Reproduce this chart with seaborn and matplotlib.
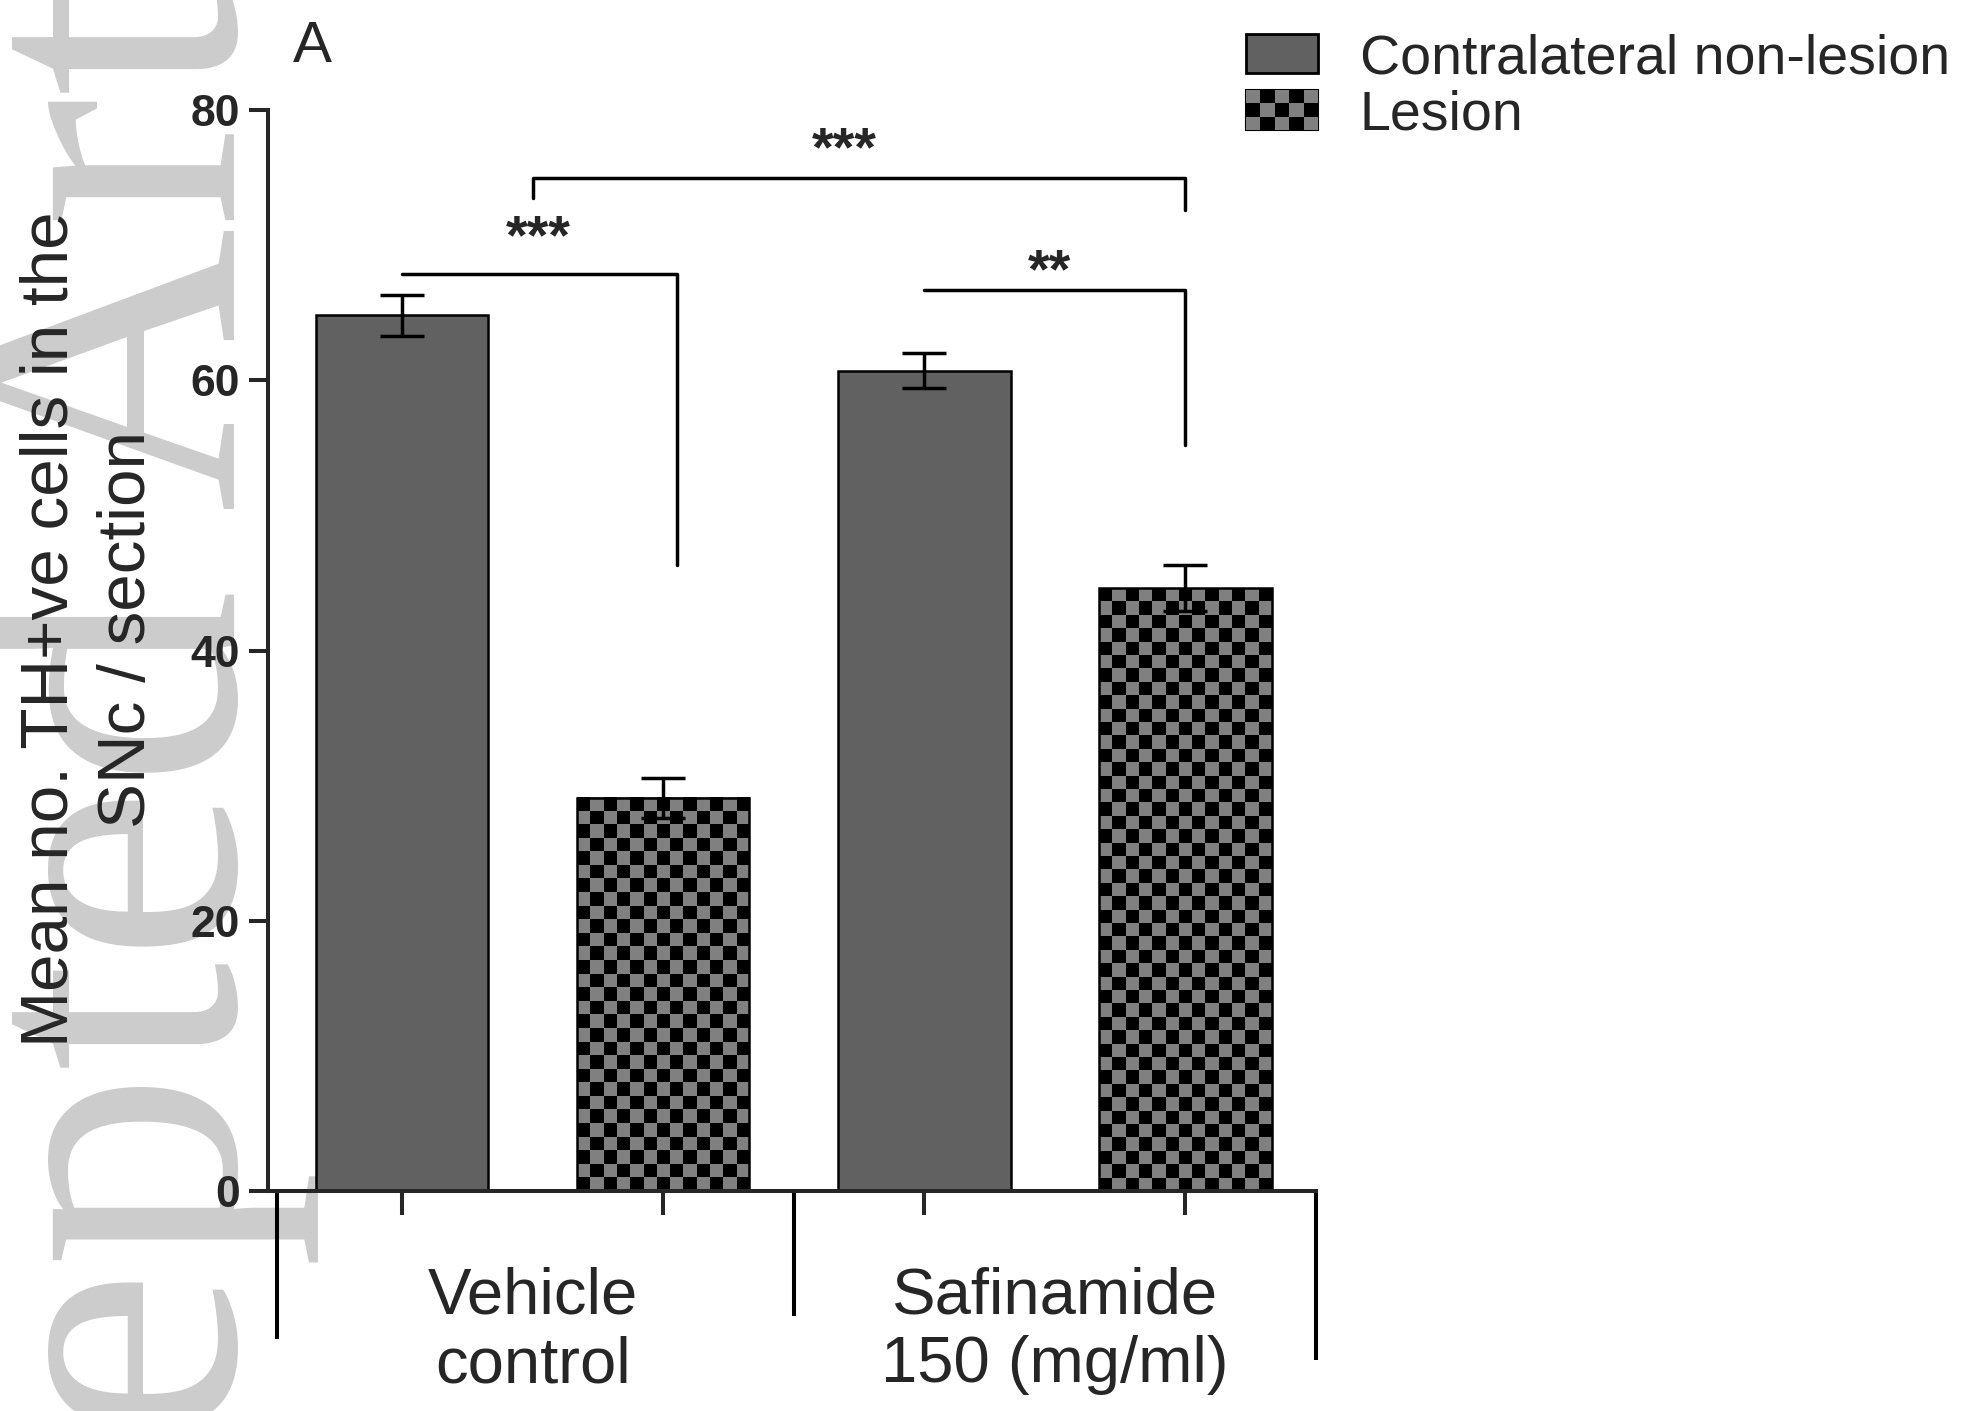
import numpy as np
import pandas as pd
import matplotlib
matplotlib.use('Agg')
import matplotlib.pyplot as plt
import matplotlib.transforms as mtransforms
import seaborn as sns
from matplotlib.colors import ListedColormap
from matplotlib.patches import Patch, Rectangle
from matplotlib.legend_handler import HandlerBase

# data
groups = ['Vehicle\ncontrol', 'Safinamide\n150 (mg/ml)']
sides = ['Contralateral non-lesion', 'Lesion']
contra_mean = [64.8, 60.7]
contra_sem = [1.5, 1.3]
lesion_mean = [29.1, 44.6]
lesion_sem = [1.5, 1.7]
y_ticks = [0, 20, 40, 60, 80]

SOLID = '#616161'
CHECK = '#808080'

df = pd.DataFrame({
    'group': groups + groups,
    'side': [sides[0]] * 2 + [sides[1]] * 2,
    'mean': contra_mean + lesion_mean,
})


class CheckerHandler(HandlerBase):
    """legend key drawn as a small checkerboard"""
    def create_artists(self, legend, orig_handle, xdescent, ydescent,
                       width, height, fontsize, trans):
        x0, y0 = -xdescent, -ydescent
        arts = [Rectangle((x0, y0), width, height, facecolor='black',
                          edgecolor='black', lw=1.5, transform=trans)]
        nx, ny = 5, 3
        cw, ch = width / nx, height / ny
        for i in range(nx):
            for j in range(ny):
                if (i + j) % 2 == 0:
                    arts.append(Rectangle((x0 + i * cw, y0 + j * ch), cw, ch,
                                          facecolor=CHECK, lw=0, transform=trans))
        return arts


sns.set_style('ticks')
plt.rcParams['font.family'] = ['Liberation Sans', 'DejaVu Sans']

fig = plt.figure(figsize=(19.84, 14.11), dpi=100)

# "Accepted Article" watermark behind everything
fig.text(235 / 1984, -667 / 1411, 'Accepted Article', rotation=90,
         rotation_mode='anchor', ha='left', va='baseline', fontsize=284,
         family=['Liberation Serif', 'DejaVu Serif'], color='#cccccc', zorder=-1)

ax = fig.add_axes([0.1351, 0.1559, 0.5282, 0.7661])
ax.set_facecolor('none')

sns.barplot(data=df, x='group', y='mean', hue='side', order=groups,
            hue_order=sides, palette={sides[0]: SOLID, sides[1]: 'black'},
            width=1.0, gap=0.34, edgecolor='black', linewidth=1.8,
            errorbar=None, legend=False, ax=ax)

contra_bars, lesion_bars = list(ax.containers[0]), list(ax.containers[1])
bar_x = sorted(b.get_x() + b.get_width() / 2 for b in contra_bars + lesion_bars)

# checkerboard fill for the lesion bars
cmap = ListedColormap(['black', CHECK])
for bar in lesion_bars:
    x0, w, h = bar.get_x(), bar.get_width(), bar.get_height()
    nx, ny = 13, max(1, int(round(h)))
    board = np.add.outer(np.arange(ny), np.arange(nx)) % 2
    bar.set_facecolor('none')
    ax.imshow(board, cmap=cmap, extent=(x0, x0 + w, 0, h), origin='upper',
              interpolation='nearest', aspect='auto', zorder=bar.get_zorder() - 0.1,
              clip_path=bar)

# error bars (SEM)
for bars, means, sems in [(contra_bars, contra_mean, contra_sem),
                          (lesion_bars, lesion_mean, lesion_sem)]:
    xs = [b.get_x() + b.get_width() / 2 for b in bars]
    ax.errorbar(xs, means, yerr=sems, fmt='none', ecolor='black',
                elinewidth=2.5, capsize=16, capthick=2.5, zorder=5)

ax.set_xlim(-0.507, 1.5)
ax.set_ylim(0, 80)
sns.despine(ax=ax)
for s in ['left', 'bottom']:
    ax.spines[s].set_linewidth(2.9)

ax.set_yticks(y_ticks)
ax.tick_params(axis='y', length=14, width=2.9, pad=6, labelsize=32)
for lbl in ax.get_yticklabels():
    lbl.set_fontweight('bold')

ax.set_xticks(bar_x, labels=[''] * len(bar_x))
ax.set_xticks([0, 1], labels=groups, minor=True)
ax.tick_params(axis='x', which='major', length=17, width=2.9)
ax.tick_params(axis='x', which='minor', length=0, pad=54, labelsize=47)
for lbl in ax.get_xticklabels(minor=True):
    lbl.set_linespacing(1.2)
ax.set_xlabel('')
ax.set_ylabel('')

# group dividers below the axis
trans = mtransforms.blended_transform_factory(ax.transData, ax.transAxes)
for xd, depth in [(-0.49, 148), (0.5, 125), (1.5, 169)]:
    ax.plot([xd, xd], [0, -depth / 1081], transform=trans, color='black',
            lw=2.9, clip_on=False, solid_capstyle='butt')

# significance brackets
brackets = [
    ([bar_x[0], 0.277, 0.277], [67.9, 67.9, 46.3], '***', 0.01, 69.4),
    ([0.0, 0.0, bar_x[3], bar_x[3]], [73.5, 75.0, 75.0, 72.6], '***', 0.597, 75.9),
    ([bar_x[2], bar_x[3], bar_x[3]], [66.7, 66.7, 55.2], '**', 0.99, 66.9),
]
for bx, by, stars, tx, ty in brackets:
    ax.plot(bx, by, color='black', lw=2.5, clip_on=False)
    ax.text(tx, ty, stars, ha='center', va='baseline', fontsize=40,
            fontweight='bold')

fig.text(89 / 1984, 0.554, 'Mean no. TH+ve cells in the\nSNc / section',
         rotation=90, ha='center', va='center', fontsize=48.5,
         linespacing=1.32, multialignment='center')
fig.text(312 / 1984, 0.967, 'A', ha='center', va='center', fontsize=42)

h_solid = Patch(facecolor=SOLID, edgecolor='black', lw=2)
h_check = Patch(facecolor='black', edgecolor='black')
fig.legend([h_solid, h_check], sides, handler_map={h_check: CheckerHandler()},
           loc='upper left', bbox_to_anchor=(1246 / 1984, 1 - 33 / 1411),
           frameon=False, fontsize=40, handlelength=1.3, handleheight=0.72,
           handletextpad=0.75, labelspacing=0.08, borderpad=0, borderaxespad=0)

fig.savefig('out.png', dpi=100)
